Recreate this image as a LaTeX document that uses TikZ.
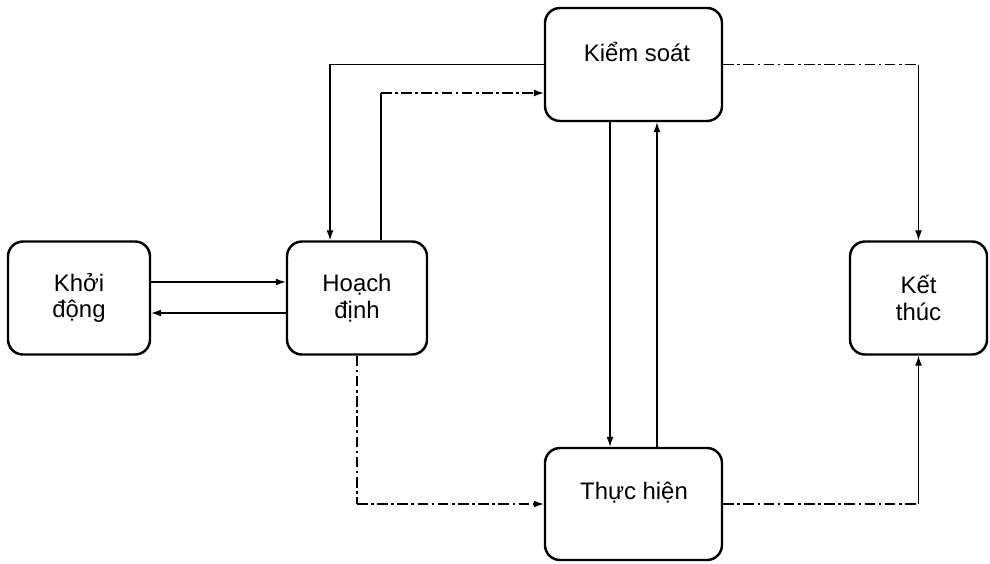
\documentclass[tikz,border=0pt]{standalone}
\usepackage{fontspec}
\setmainfont{Liberation Sans}
\usetikzlibrary{arrows.meta,calc}

\tikzset{
  stage/.style={draw, line width=1.4pt, rounded corners=3mm, minimum height=22.6mm,
    align=center, font=\fontsize{13.6}{15}\selectfont},
  stagetext/.style={font=\fontsize{13.6}{15}\selectfont},
  flow/.style={line width=0.7pt, -{Latex[length=2mm,width=1.4mm]}},
  faint/.style={line width=0.7pt, dash pattern=on 6pt off 2pt on 1.5pt off 2pt},
}

\begin{document}
\begin{tikzpicture}[x=0.2mm, y=-0.2mm]
        \useasboundingbox (0,0) rectangle (990,563);
        % the five stages
        \node[stage, minimum width=28.4mm] (khoi) at (79,298) {Khởi\\động};
        \node[stage, minimum width=28mm] (hoach) at (357,298) {Hoạch\\định};
        \node[stage, minimum width=35.4mm] (kiem) at (633.5,64.5) {};
        \node[stagetext] (kiemtxt) at (637,52) {Kiểm soát};
        \node[stage, minimum width=35.4mm, minimum height=22.4mm] (thuc) at (633.5,504) {};
        \node[stagetext] (thuctxt) at (634,493) {Thực hiện};
        \node[stage, minimum width=27.4mm] (ket) at (918.5,298) {Kết\\thúc};
        % start <-> planning
        \draw[flow] ([yshift=3.2mm]khoi.east) -- ([yshift=3.2mm]hoach.west);
        \draw[flow] ([yshift=-3mm]hoach.west) -- ([yshift=-3mm]khoi.east);
        % control <-> planning
        \draw[flow] (kiem.west) -| ([xshift=-5.4mm]hoach.north);
        \coordinate (hdup) at ([xshift=4.8mm]hoach.north);
        \coordinate (ksin) at ([yshift=-5.7mm]kiem.west);
        \draw[line width=0.7pt] (hdup) -- (hdup |- ksin);
        \draw[faint, flow] (hdup |- ksin) -- (ksin);
        % control <-> execution
        \draw[flow] ([xshift=-4.7mm]kiem.south) -- ([xshift=-4.7mm]thuc.north);
        \draw[flow] ([xshift=4.7mm]thuc.north) -- ([xshift=4.7mm]kiem.south);
        % planning -> execution
        \draw[faint] (hoach.south) -- (hoach.south |- thuc.west);
        \draw[faint, flow] (hoach.south |- thuc.west) -- (thuc.west);
        % execution -> closing
        \draw[faint] (thuc.east) -- (thuc.east -| ket.south);
        \draw[flow] (thuc.east -| ket.south) -- (ket.south);
        % control -> closing
        \draw[faint] (kiem.east) -- (kiem.east -| ket.north);
        \draw[flow] (kiem.east -| ket.north) -- (ket.north);
      \end{tikzpicture}
\end{document}
